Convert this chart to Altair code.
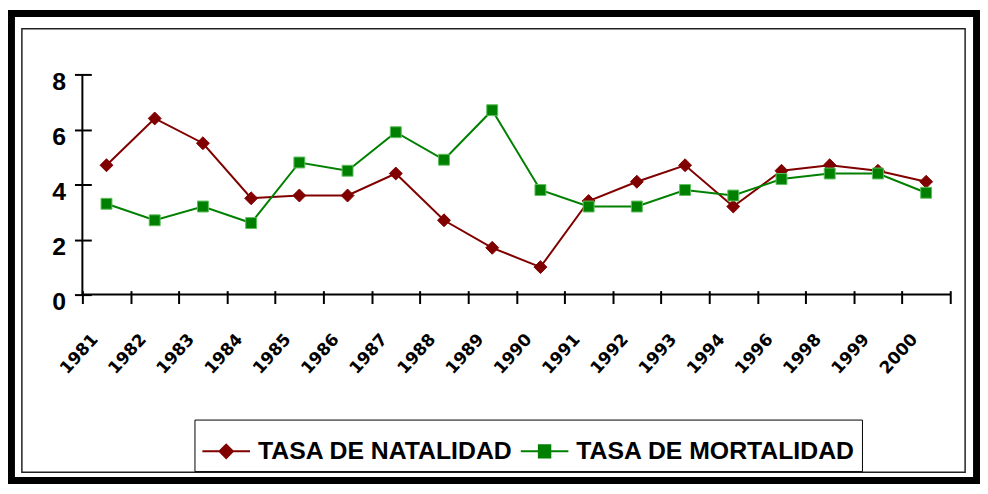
import altair as alt
import pandas as pd

years = ["1981", "1982", "1983", "1984", "1985", "1986", "1987", "1988", "1989",
         "1990", "1991", "1992", "1993", "1994", "1996", "1998", "1999", "2000"]
natalidad = [4.7, 6.4, 5.5, 3.5, 3.6, 3.6, 4.4, 2.7, 1.7, 1.0, 3.4, 4.1, 4.7, 3.2, 4.5, 4.7, 4.5, 4.1]
mortalidad = [3.3, 2.7, 3.2, 2.6, 4.8, 4.5, 5.9, 4.9, 6.7, 3.8, 3.2, 3.2, 3.8, 3.6, 4.2, 4.4, 4.4, 3.7]
series = ["TASA DE NATALIDAD", "TASA DE MORTALIDAD"]
colors = ["#800000", "#008000"]
y_ticks = [0, 2, 4, 6, 8]

df = pd.DataFrame({
    "year": years * 2,
    "value": natalidad + mortalidad,
    "serie": [series[0]] * len(years) + [series[1]] * len(years),
})

W, H = 875, 222

x_enc = alt.X(
    "year:N", sort=years,
    scale=alt.Scale(type="band", domain=years, paddingInner=0, paddingOuter=0),
    axis=alt.Axis(title=None, labelAngle=-48, labelAlign="right", labelBaseline="middle",
                  labelFont="DejaVu Sans", labelFontSize=17, labelFontWeight="bold",
                  labelColor="black", labelOffset=-12, labelPadding=33,
                  tickBand="extent", tickSize=13, tickWidth=2, tickColor="black",
                  domain=False, offset=-4, grid=False, labelOverlap=False),
)
y_enc = alt.Y(
    "value:Q",
    scale=alt.Scale(domain=[0, 8], nice=False),
    axis=alt.Axis(title=None, values=y_ticks, labelFont="Liberation Sans", labelFontSize=25,
                  labelFontWeight="bold", labelColor="black", labelPadding=9, labelOffset=7,
                  labelFlush=False, tickSize=17, tickWidth=2, tickColor="black",
                  domain=False, offset=-9, grid=False),
)

p_nat = "M-1,0L1,0M0,-0.28L0.28,0L0,0.28L-0.28,0Z"
p_mor = "M-1,0L1,0M-0.24,-0.26L0.24,-0.26L0.24,0.26L-0.24,0.26Z"

legend = alt.Legend(
    orient="none", legendX=113, legendY=348, direction="horizontal", title=None,
    labelFont="Liberation Sans", labelFontSize=25, labelFontWeight="bold", labelColor="black",
    labelLimit=0, symbolSize=2304, symbolStrokeWidth=2, symbolOpacity=1,
    labelOffset=7, columnPadding=4, padding=7, strokeColor="black",
)
color_scale = alt.Scale(domain=series, range=colors)

base = alt.Chart(df)

lines = base.mark_line(strokeWidth=2).encode(
    x=x_enc, y=y_enc,
    color=alt.Color("serie:N", scale=color_scale, legend=legend),
)

legend_src = base.mark_point(filled=True, opacity=0, size=2304).encode(
    x=x_enc, y=y_enc,
    color=alt.Color("serie:N", scale=color_scale, legend=legend),
    shape=alt.Shape("serie:N", scale=alt.Scale(domain=series, range=[p_nat, p_mor]), legend=legend),
)

pts_nat = base.transform_filter(alt.datum.serie == series[0]).mark_point(
    shape="diamond", filled=True, size=169, fill=colors[0], stroke=colors[0],
    strokeWidth=1, opacity=1,
).encode(x=x_enc, y=y_enc)

pts_mor = base.transform_filter(alt.datum.serie == series[1]).mark_point(
    shape="square", filled=True, size=121, fill=colors[1], stroke="#5cbf5c",
    strokeWidth=1, opacity=1,
).encode(x=x_enc, y=y_enc)

one = alt.Chart(pd.DataFrame({"k": [0]}))

x_axis_line = one.mark_rule(color="black", strokeWidth=2).encode(
    x=alt.value(0), x2=alt.value(W), y=alt.value(H))
y_axis_line = one.mark_rule(color="black", strokeWidth=2).encode(
    x=alt.value(0), y=alt.value(0), y2=alt.value(H))

outer_frame = one.mark_rect(filled=False, stroke="black", strokeWidth=7, clip=False).encode(
    x=alt.value(-71.5), x2=alt.value(901.5), y=alt.value(-61.5), y2=alt.value(409.5))
inner_frame = one.mark_rect(filled=False, stroke="#222222", strokeWidth=1.5, clip=False).encode(
    x=alt.value(-61), x2=alt.value(890), y=alt.value(-46), y2=alt.value(401))

chart = alt.layer(
    outer_frame, inner_frame, legend_src, lines, pts_nat, pts_mor, x_axis_line, y_axis_line
).properties(
    width=W, height=H, padding=0, background="white"
).configure_view(stroke=None)

chart.save("out.html", embed_options={"renderer": "svg", "actions": False})
